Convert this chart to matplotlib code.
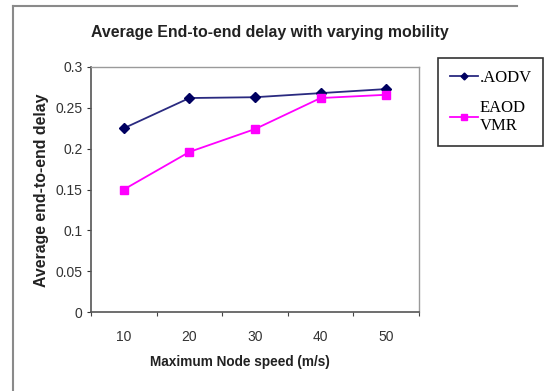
import numpy as np
import matplotlib
import matplotlib.pyplot as plt
from matplotlib.lines import Line2D

matplotlib.use('Agg')

# Data
speeds = ['10', '20', '30', '40', '50']
aodv = [0.225, 0.262, 0.263, 0.268, 0.273]
eaodvmr = [0.150, 0.196, 0.224, 0.262, 0.266]
y_ticks = [0, 0.05, 0.1, 0.15, 0.2, 0.25, 0.3]
y_tick_labels = ['0', '0.05', '0.1', '0.15', '0.2', '0.25', '0.3']

plt.rcParams['font.family'] = ['Liberation Sans', 'DejaVu Sans']

fig = plt.figure(figsize=(5.58, 3.91), dpi=100)
W, H = 558, 391
ax = fig.add_axes([91 / W, 1 - 312 / H, (419 - 91) / W, (312 - 67) / H])

x = np.arange(len(speeds))
ax.plot(x, aodv, color='#2a2a80', lw=1.3, marker='D', markersize=5,
        markerfacecolor='#000060', markeredgecolor='#000060', label='.AODV')
ax.plot(x, eaodvmr, color='#ff00ff', lw=1.3, marker='s', markersize=5.5, label='EAOD\nVMR')

ax.set_xlim(-0.5, len(speeds) - 0.5)
ax.set_ylim(0, 0.3)
ax.set_yticks(y_ticks)
ax.set_yticklabels(y_tick_labels)
ax.set_xticks(np.arange(-0.5, len(speeds), 1.0))
ax.set_xticklabels([])
ax.set_xticks(x, minor=True)
ax.set_xticklabels(speeds, minor=True)
ax.tick_params(axis='x', which='minor', length=0, pad=13, labelsize=10, colors='#333333')
ax.tick_params(axis='x', which='major', length=3, direction='out', color='#444444')
ax.tick_params(axis='y', length=3, direction='out', labelsize=10, colors='#333333', pad=3)

for s in ['top', 'right']:
    ax.spines[s].set_color('#9a9a9a')
    ax.spines[s].set_linewidth(1.0)
for s in ['left', 'bottom']:
    ax.spines[s].set_color('#555555')
    ax.spines[s].set_linewidth(1.2)

fig.text(270 / W, 1 - 32 / H, 'Average End-to-end delay with varying mobility',
         ha='center', va='center', fontsize=11.4, fontweight='bold', color='#222222')
fig.text(240 / W, 1 - 362 / H, 'Maximum Node speed (m/s)',
         ha='center', va='center', fontsize=9.8, fontweight='bold', color='#222222')
fig.text(42 / W, 1 - 190 / H, 'Average end-to-end delay', rotation=90,
         ha='center', va='center', fontsize=11.4, fontweight='bold', color='#222222')

leg = fig.legend(loc='upper left', bbox_to_anchor=(438 / W, 1 - 58 / H),
                 prop={'family': 'Liberation Serif', 'size': 12},
                 frameon=True, fancybox=False, handlelength=1.7, handletextpad=0.1,
                 borderpad=0.7, labelspacing=0.85, markerscale=0.7, borderaxespad=0)
leg.get_frame().set_edgecolor('black')
leg.get_frame().set_linewidth(1.2)

# outer chart frame (top and left edges visible)
fig.add_artist(Line2D([13 / W, 517 / W], [1 - 6 / H, 1 - 6 / H], color='#8a8a8a', lw=1.5))
fig.add_artist(Line2D([13 / W, 13 / W], [0, 1 - 6 / H], color='#8a8a8a', lw=1.5))

fig.savefig('out.png', dpi=100)
